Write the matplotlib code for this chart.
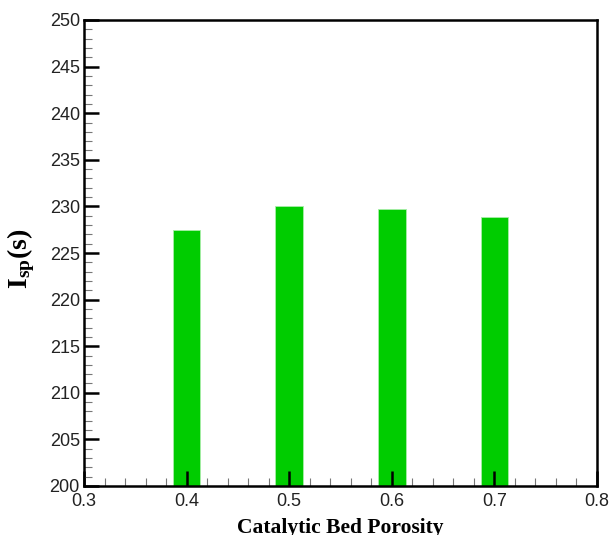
import matplotlib
matplotlib.use("Agg")
import matplotlib.pyplot as plt
from matplotlib.ticker import MultipleLocator

porosity = [0.4, 0.5, 0.6, 0.7]
isp = [227.5, 230.0, 229.7, 228.9]

plt.rcParams['mathtext.fontset'] = 'custom'
plt.rcParams['mathtext.bf'] = 'Liberation Serif:bold'
plt.rcParams['mathtext.rm'] = 'Liberation Serif:bold'

fig = plt.figure(figsize=(6.11, 5.35), dpi=100)
ax = fig.add_axes([84 / 611, 1 - 486 / 535, (597 - 84) / 611, (486 - 20) / 535])

ax.bar(porosity, [v - 200 for v in isp], bottom=200, width=0.027,
       color='#00cc00', edgecolor='#a8eea8', linewidth=0.6, zorder=1)

ax.set_xlim(0.3, 0.8)
ax.set_ylim(200, 250)
ax.xaxis.set_major_locator(MultipleLocator(0.1))
ax.xaxis.set_minor_locator(MultipleLocator(0.02))
ax.yaxis.set_major_locator(MultipleLocator(5))
ax.yaxis.set_minor_locator(MultipleLocator(1))
ax.tick_params(which='both', direction='in', top=False, right=False, zorder=5)
ax.tick_params(which='major', length=11, width=1.8)
ax.tick_params(which='minor', length=6, width=0.8, color='#777777')
ax.tick_params(axis='x', which='major', pad=5)
ax.tick_params(axis='y', which='major', pad=3)
for lab in ax.get_xticklabels() + ax.get_yticklabels():
    lab.set_fontfamily('Liberation Sans')
    lab.set_fontsize(13)
    lab.set_color('#222222')
for s in ax.spines.values():
    s.set_linewidth(1.8)
    s.set_zorder(6)

ax.set_xlabel('Catalytic Bed Porosity', fontfamily='Liberation Serif',
              fontweight='bold', fontsize=15.5)
ax.xaxis.set_label_coords(0.5, -0.068, transform=ax.transAxes)
ax.xaxis.label.set_va('top')
ax.set_ylabel(r'$\mathbf{I_{sp}}$(s)', fontfamily='Liberation Serif',
              fontweight='bold', fontsize=20)
ax.yaxis.set_label_coords(-0.092, 0.487)

fig.savefig('out.png', dpi=100)
